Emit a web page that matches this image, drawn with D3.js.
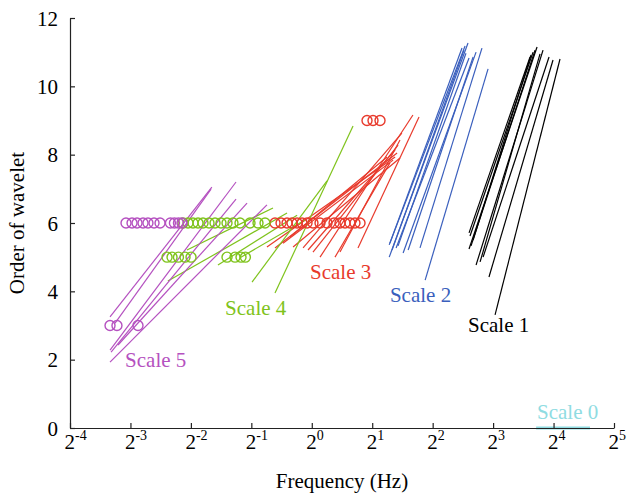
<!DOCTYPE html>
<html><head><meta charset="utf-8">
<script src="https://cdn.jsdelivr.net/npm/d3@7"></script>
<style>body{margin:0;background:#fff}svg{display:block}text{font-family:"Liberation Serif","DejaVu Serif","Times New Roman",serif}</style>
</head><body><svg id="c" width="628" height="496"></svg>
<script>
// ---- data ----
const xTickExponents = [-4, -3, -2, -1, 0, 1, 2, 3, 4, 5];
const yTicks = [0, 2, 4, 6, 8, 10, 12];

// segments: [freq1, order1, freq2, order2]
const scale0Lines = [[13.1, 0, 24.3, 0]];
const scale1Lines = [
  [6.07, 5.71, 12.22, 10.86], [6.14, 5.62, 12.65, 11.00], [6.07, 5.24, 13.24, 11.15],
  [6.21, 5.33, 12.94, 11.06], [6.36, 5.50, 12.36, 10.92], [6.58, 4.77, 14.18, 11.06],
  [6.89, 4.86, 13.70, 10.95], [7.13, 5.00, 15.19, 10.86], [7.63, 4.42, 15.90, 10.77],
  [8.18, 3.31, 17.23, 10.80]
];
const scale2Lines = [
  [2.43, 5.36, 5.60, 11.12], [2.45, 5.41, 5.80, 11.18], [2.43, 5.00, 6.00, 11.27],
  [2.51, 5.21, 5.73, 11.06], [2.63, 5.27, 6.07, 10.83], [2.69, 5.33, 5.86, 10.97],
  [2.85, 5.12, 6.58, 11.00], [3.02, 5.21, 6.36, 10.86], [3.46, 5.27, 7.04, 11.12],
  [3.67, 4.33, 7.55, 10.51]
];
const scale3Lines = [
  [0.598, 5.30, 2.60, 7.93], [0.656, 5.27, 2.66, 8.05], [0.719, 5.41, 2.54, 7.84],
  [0.779, 5.59, 2.37, 7.93], [0.807, 5.30, 2.75, 7.90], [0.905, 5.27, 2.81, 8.63],
  [0.958, 5.21, 2.60, 8.14], [1.014, 5.15, 2.69, 8.28], [1.099, 5.00, 3.19, 9.16],
  [1.305, 5.00, 2.45, 7.76], [1.382, 5.15, 2.75, 8.43], [1.699, 5.27, 3.42, 9.10]
];
const scale4Lines = [
  [0.504, 4.27, 1.191, 7.23], [0.656, 3.95, 1.605, 8.84], [0.239, 5.21, 0.641, 6.44],
  [0.192, 4.30, 0.753, 6.29], [0.341, 4.77, 0.845, 6.23], [0.439, 4.98, 0.925, 6.09]
];
const scale5Lines = [
  [0.0989, 3.25, 0.318, 7.05], [0.1048, 3.07, 0.315, 6.99], [0.0989, 2.28, 0.4195, 7.20],
  [0.1001, 2.22, 0.4195, 6.70], [0.0989, 1.93, 0.598, 6.53], [0.1084, 2.43, 0.476, 6.58]
];

// circles: [freq, order]
const scale3Circles = [
  [0.656, 6], [0.703, 6], [0.753, 6], [0.797, 6], [0.845, 6], [0.894, 6], [0.947, 6],
  [1.014, 6], [1.099, 6], [1.191, 6], [1.291, 6], [1.382, 6], [1.464, 6], [1.551, 6],
  [1.641, 6], [1.739, 6], [1.884, 9], [2.018, 9], [2.187, 9]
];
const scale4Circles = [
  [0.2284, 6], [0.2419, 6], [0.2561, 6], [0.2713, 6], [0.2873, 6], [0.3078, 6], [0.3297, 6],
  [0.3531, 6], [0.3783, 6], [0.4052, 6], [0.4391, 6], [0.4925, 6], [0.5398, 6], [0.5850, 6],
  [0.1902, 5], [0.2014, 5], [0.2168, 5], [0.2337, 5], [0.2504, 5],
  [0.3783, 5], [0.4147, 5], [0.4442, 5], [0.4670, 5]
];
const scale5Circles = [
  [0.1188, 6], [0.1273, 6], [0.1348, 6], [0.1444, 6], [0.1528, 6], [0.1638, 6], [0.1755, 6],
  [0.1977, 6], [0.2070, 6], [0.2168, 6], [0.2258, 6],
  [0.0989, 3], [0.1071, 3], [0.1363, 3]
];

const scaleNames = ["Scale 0", "Scale 1", "Scale 2", "Scale 3", "Scale 4", "Scale 5"];
const scaleLabelAt = [[13.24, 0.26], [6.0, 2.81], [2.45, 3.69], [0.98, 4.36], [0.370, 3.31], [0.1176, 1.79]];

// ---- drawing ----
const colors = ["#8fdce2", "#000000", "#3a5fbd", "#e83a2c", "#7fc31c", "#b551c0"];
const W = 628, H = 496, m = {l: 70, r: 14, t: 18, b: 68};
const svg = d3.select("#c");

const x = d3.scaleLog().base(2).domain([Math.pow(2, -4), Math.pow(2, 5)]).range([m.l, W - m.r]);
const y = d3.scaleLinear().domain([0, 12]).range([H - m.b, m.t]);

const allLines = [scale0Lines, scale1Lines, scale2Lines, scale3Lines, scale4Lines, scale5Lines];
const allCircles = [null, null, null, scale3Circles, scale4Circles, scale5Circles];

allLines.forEach((segs, i) => {
  svg.append("g").selectAll("line").data(segs).join("line")
    .attr("x1", d => x(d[0])).attr("y1", d => y(d[1]))
    .attr("x2", d => x(d[2])).attr("y2", d => y(d[3]))
    .attr("stroke", colors[i]).attr("stroke-width", i === 0 ? 3 : 1.2);
});
allCircles.forEach((pts, i) => {
  if (!pts) return;
  svg.append("g").selectAll("circle").data(pts).join("circle")
    .attr("cx", d => x(d[0])).attr("cy", d => y(d[1])).attr("r", 5)
    .attr("fill", "none").attr("stroke", colors[i]).attr("stroke-width", 1.4);
});

// axes
const xAxis = d3.axisBottom(x).tickValues(xTickExponents.map(e => Math.pow(2, e)))
  .tickSizeInner(-5).tickSizeOuter(0).tickFormat("");
const gx = svg.append("g").attr("transform", `translate(0,${H - m.b})`).call(xAxis);
gx.selectAll("path, line").attr("stroke", "#222").attr("stroke-width", 1.2);
gx.selectAll(".tick").each(function(d, i) {
  const t = d3.select(this).append("text").attr("x", -6).attr("y", 21)
    .attr("fill", "#000").attr("text-anchor", "start").style("font-size", "21px");
  t.append("tspan").text("2");
  t.append("tspan").attr("dy", -9).style("font-size", "14px").text(String(xTickExponents[i]));
});

const yAxis = d3.axisLeft(y).tickValues(yTicks).tickSizeInner(-5).tickSizeOuter(0).tickFormat(d3.format("d"));
const gy = svg.append("g").attr("transform", `translate(${m.l},0)`).call(yAxis);
gy.selectAll("path, line").attr("stroke", "#222").attr("stroke-width", 1.2);
gy.selectAll("text").attr("x", -12).attr("dy", "0.34em")
  .attr("fill", "#000").style("font-size", "21px").style("font-family", null);

// scale labels
svg.append("g").selectAll("text").data(scaleNames).join("text")
  .attr("x", (d, i) => x(scaleLabelAt[i][0])).attr("y", (d, i) => y(scaleLabelAt[i][1]))
  .attr("fill", (d, i) => colors[i]).style("font-size", "21px").text(d => d);

// axis titles
svg.append("text").attr("x", (m.l + W - m.r) / 2).attr("y", 488).attr("text-anchor", "middle")
  .style("font-size", "21px").text("Frequency (Hz)");
svg.append("text").attr("transform", `translate(24,${(m.t + H - m.b) / 2}) rotate(-90)`)
  .attr("text-anchor", "middle").style("font-size", "21px").text("Order of wavelet");
</script></body></html>
